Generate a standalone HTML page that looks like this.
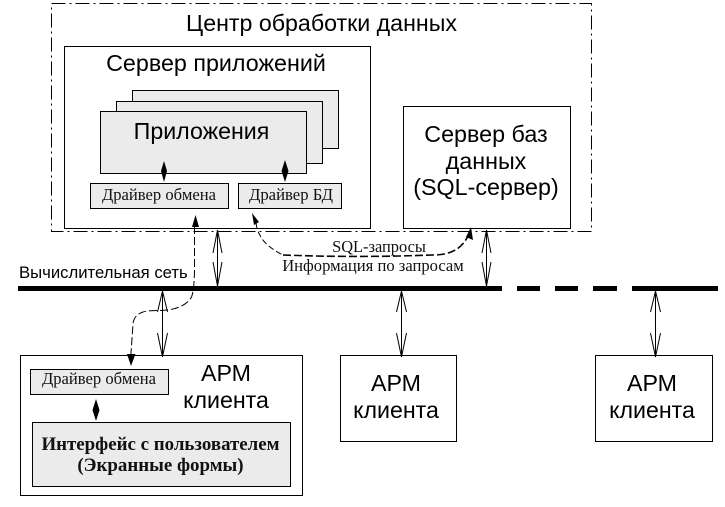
<!DOCTYPE html>
<html>
<head>
<meta charset="utf-8">
<style>
html,body{margin:0;padding:0;background:#fff;}
svg{display:block;}
.s{font-family:"Liberation Sans",sans-serif;fill:#000;}
.r{font-family:"Liberation Serif",serif;fill:#111;}
.b{fill:#fff;stroke:#000;stroke-width:1;}
.g{fill:#ebebeb;stroke:#000;stroke-width:1;}
.l{fill:none;stroke:#000;stroke-width:1;}
</style>
</head>
<body>
<svg width="725" height="507" viewBox="0 0 725 507" xmlns="http://www.w3.org/2000/svg">
<rect width="725" height="507" fill="#fff"/>
<rect x="51.5" y="3.5" width="540" height="228" fill="none" stroke="#000" stroke-width="1" stroke-dasharray="14 4 2 4"/>
<text x="321.5" y="31" class="s" font-size="23.2" text-anchor="middle">Центр обработки данных</text>

<rect x="64.5" y="46.5" width="306" height="182" class="b"/>
<text x="216" y="71" class="s" font-size="23.3" text-anchor="middle">Сервер приложений</text>
<rect x="132.5" y="90.5" width="206" height="58" class="g"/>
<rect x="116.5" y="101.5" width="206" height="62" class="g"/>
<rect x="100.5" y="111.5" width="206" height="62" class="g"/>
<text x="201.500" y="139" class="s" font-size="23.2" text-anchor="middle">Приложения</text>

<rect x="90.5" y="183.5" width="138" height="25" class="g"/>
<text x="159" y="200" class="r" font-size="16.6" text-anchor="middle">Драйвер обмена</text>
<rect x="238.5" y="183.5" width="103" height="25" class="g"/>
<text x="291" y="200" class="r" font-size="16.7" text-anchor="middle">Драйвер БД</text>

<path d="M164 161 L167 171 L164 182 L161 171 Z" fill="#000"/>
<path d="M285 160 L288.500 171 L285 182 L281.500 171 Z" fill="#000"/>

<rect x="403.500" y="106.500" width="167" height="122" class="b"/>
<text x="486" y="142" class="s" font-size="23.300" text-anchor="middle">Сервер баз</text>
<text x="486" y="169" class="s" font-size="23.300" text-anchor="middle">данных</text>
<text x="486" y="195" class="s" font-size="23.300" text-anchor="middle">(SQL-сервер)</text>

<text x="19" y="278" class="s" font-size="16.700">Вычислительная сеть</text>
<rect x="18" y="286" width="484" height="5" fill="#000"/>
<rect x="517" y="286" width="23" height="5" fill="#000"/>
<rect x="555" y="286" width="23" height="5" fill="#000"/>
<rect x="593" y="286" width="24" height="5" fill="#000"/>
<rect x="632" y="286" width="86" height="5" fill="#000"/>

<text x="379" y="252" class="r" font-size="16.400" text-anchor="middle">SQL-запросы</text>
<text x="373" y="271" class="r" font-size="16.600" text-anchor="middle">Информация по запросам</text>

<rect x="20.500" y="355.500" width="282" height="140" class="b"/>
<rect x="30.500" y="369.500" width="138" height="25" class="g"/>
<text x="99" y="384" class="r" font-size="16.600" text-anchor="middle">Драйвер обмена</text>
<path d="M96 399L99.500 410L96 421L92.500 410Z" fill="#000"/>
<rect x="32.500" y="422.500" width="258" height="64" class="g"/>
<text x="160.500" y="450" class="r" font-size="18.900" font-weight="bold" text-anchor="middle">Интерфейс с пользователем</text>
<text x="160.500" y="471" class="r" font-size="18.900" font-weight="bold" text-anchor="middle">(Экранные формы)</text>
<text x="226" y="381" class="s" font-size="23.200" text-anchor="middle">АРМ</text>
<text x="226" y="408" class="s" font-size="23.200" text-anchor="middle">клиента</text>

<rect x="340.500" y="355.500" width="116" height="86" class="b"/>
<text x="396" y="391" class="s" font-size="23.200" text-anchor="middle">АРМ</text>
<text x="396" y="418" class="s" font-size="23.200" text-anchor="middle">клиента</text>

<rect x="595.500" y="355.500" width="117" height="86" class="b"/>
<text x="652" y="391" class="s" font-size="23.200" text-anchor="middle">АРМ</text>
<text x="652" y="418" class="s" font-size="23.200" text-anchor="middle">клиента</text>

<!-- double arrows -->
<g class="l">
<path d="M217.500 230V286M217.500 230L213 253M217.500 230L222 253M217.500 286L213 262M217.500 286L222 262"/>
<path d="M486.500 230V286M486.500 230L482 253M486.500 230L491 253M486.500 286L482 262M486.500 286L491 262"/>
<path d="M162.500 291V357M162.500 291L157.500 312M162.500 291L167.500 312M162.500 357L157.500 333M162.500 357L167.500 333"/>
<path d="M401.500 291V357M401.500 291L396.500 312M401.500 291L406.500 312M401.500 357L396.500 333M401.500 357L406.500 333"/>
<path d="M655.500 291V357M655.500 291L650.500 312M655.500 291L660.500 312M655.500 357L650.500 333M655.500 357L660.500 333"/>
</g>

<!-- dashed curves -->
<path d="M194.500 226V272C194 285 193.500 292 191.500 297C187 305 177 309 167 310C158 311 150 310 143 312C137 314 133.500 318 133 324L130.800 356" fill="none" stroke="#000" stroke-width="1" stroke-dasharray="8 3"/>
<path d="M195.500 215L192 227H199Z" fill="#000"/>
<path d="M131 366L127 354H135.500Z" fill="#000"/>
<path d="M256 223C258 238 267 247 283 255" fill="none" stroke="#000" stroke-width="1" stroke-dasharray="6 3"/>
<path d="M283 255C310 256 345 257 400 256L433 255C452 255 462 248 468 236" fill="none" stroke="#000" stroke-width="1.600" stroke-dasharray="8 3"/>
<path d="M252 213L259 222L254 225Z" fill="#000"/>
<path d="M471 227L473 240L466 237Z" fill="#000"/>
</svg>
</body>
</html>
